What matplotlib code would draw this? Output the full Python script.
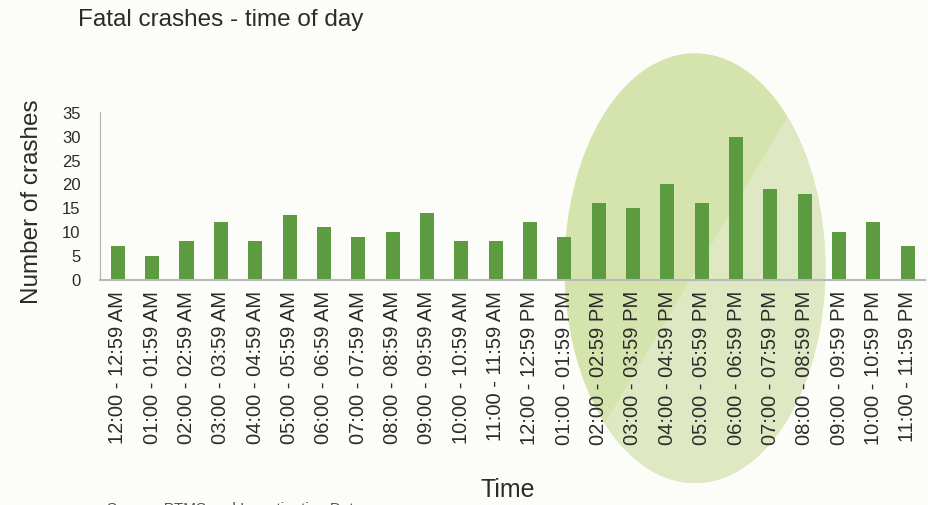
import matplotlib.pyplot as plt
from matplotlib.patches import Ellipse, Polygon

# --- Data ---
time_slots = ['12:00 - 12:59 AM', '01:00 - 01:59 AM', '02:00 - 02:59 AM', '03:00 - 03:59 AM',
              '04:00 - 04:59 AM', '05:00 - 05:59 AM', '06:00 - 06:59 AM', '07:00 - 07:59 AM',
              '08:00 - 08:59 AM', '09:00 - 09:59 AM', '10:00 - 10:59 AM', '11:00 - 11:59 AM',
              '12:00 - 12:59 PM', '01:00 - 01:59 PM', '02:00 - 02:59 PM', '03:00 - 03:59 PM',
              '04:00 - 04:59 PM', '05:00 - 05:59 PM', '06:00 - 06:59 PM', '07:00 - 07:59 PM',
              '08:00 - 08:59 PM', '09:00 - 09:59 PM', '10:00 - 10:59 PM', '11:00 - 11:59 PM']
crashes = [7, 5, 8, 12, 8, 13.5, 11, 9, 10, 14, 8, 8,
           12, 9, 16, 15, 20, 16, 30, 19, 18, 10, 12, 7]
y_ticks = [0, 5, 10, 15, 20, 25, 30, 35]

bg = '#fcfdf8'
text_col = '#2b2b2b'
plt.rcParams['font.family'] = ['Liberation Sans', 'DejaVu Sans']

fig = plt.figure(figsize=(9.29, 5.05), dpi=100, facecolor=bg)

# --- Highlight ellipse (behind the axes) ---
ell = Ellipse((0.748, 0.469), 0.281, 0.851, transform=fig.transFigure,
              facecolor='#d4e4ac', edgecolor='none', zorder=-2)
fig.patches.append(ell)
light = Polygon([(787/929, 1-118/505), (569/929, 1-483/505), (0.95, -0.1), (0.95, 1.0)],
                closed=True, transform=fig.transFigure, facecolor='#dee9c4',
                edgecolor='none', zorder=-1)
light.set_clip_path(ell)
fig.patches.append(light)

ax = fig.add_axes([0.1076, 0.4465, 0.888, 0.3325])
ax.set_facecolor('none')

x = range(len(crashes))
ax.bar(x, crashes, width=0.41, color='#5d9b41', zorder=3)

ax.set_xlim(-0.52, 23.5)
ax.set_ylim(0, 35.3)
ax.set_yticks(y_ticks)
ax.set_xticks(list(x))
ax.set_xticklabels(time_slots, rotation=90, fontsize=14.5, color=text_col)
ax.tick_params(axis='y', length=0, pad=14, labelsize=12, labelcolor=text_col)
ax.tick_params(axis='x', length=0, pad=8)

for s in ['top', 'right']:
    ax.spines[s].set_visible(False)
ax.spines['left'].set_color('#b0b0b0')
ax.spines['bottom'].set_color('#b8b8b8')
ax.spines['bottom'].set_linewidth(1.5)
ax.spines['bottom'].set_zorder(4)

fig.text(0.084, 0.96, 'Fatal crashes - time of day', fontsize=17.5, color=text_col,
         ha='left', va='center')
fig.text(0.034, 0.6, 'Number of crashes', rotation=90, fontsize=17.5, color=text_col,
         ha='center', va='center')
fig.text(0.547, 0.03, 'Time', fontsize=18, color=text_col, ha='center', va='center')
fig.text(0.115, 0.006, 'Source: PTMS and Investigation Data', fontsize=11,
         color='#555555', ha='left', va='top')

fig.savefig('out.png', dpi=100, facecolor=bg)
